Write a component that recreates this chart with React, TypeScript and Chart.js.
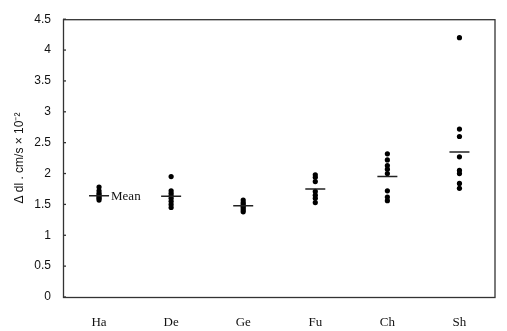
import React, { useEffect, useRef } from "react";
import { Chart, registerables } from "chart.js";

Chart.register(...registerables);

const categories = ["Ha", "De", "Ge", "Fu", "Ch", "Sh"];
const haValues = [1.78, 1.72, 1.68, 1.65, 1.62, 1.6, 1.57];
const deValues = [1.95, 1.72, 1.68, 1.64, 1.6, 1.55, 1.5, 1.45];
const geValues = [1.57, 1.53, 1.5, 1.47, 1.44, 1.41, 1.38];
const fuValues = [1.98, 1.94, 1.87, 1.71, 1.65, 1.6, 1.53];
const chValues = [2.32, 2.22, 2.13, 2.07, 2.0, 1.72, 1.62, 1.56];
const shValues = [4.2, 2.72, 2.6, 2.27, 2.05, 2.0, 1.84, 1.76];
const meanValues = [1.64, 1.63, 1.48, 1.75, 1.95, 2.35];
const yTicks = [0, 0.5, 1, 1.5, 2, 2.5, 3, 3.5, 4, 4.5];
const yTitle = "Δ dl . cm/s × 10⁻²";
const meanLabel = "Mean";

const groups = [haValues, deValues, geValues, fuValues, chValues, shValues];

export default function App() {
  const ref = useRef<HTMLCanvasElement | null>(null);
  useEffect(() => {
    if (!ref.current) return;
    const points: { x: string; y: number }[] = [];
    groups.forEach((vals, i) => vals.forEach((v) => points.push({ x: categories[i], y: v })));
    const means = meanValues.map((v, i) => ({ x: categories[i], y: v }));

    const boxPlugin = {
      id: "boxAndLabel",
      afterDraw(chart: any) {
        const { ctx, chartArea } = chart;
        ctx.save();
        ctx.strokeStyle = "#333";
        ctx.lineWidth = 1.3;
        ctx.strokeRect(chartArea.left + 0.5, chartArea.top + 0.5, chartArea.right - chartArea.left - 1, chartArea.bottom - chartArea.top);
        const ys = chart.scales.y;
        yTicks.forEach((t) => {
          const py = ys.getPixelForValue(t);
          ctx.beginPath();
          ctx.moveTo(chartArea.left, py);
          ctx.lineTo(chartArea.left + 3, py);
          ctx.stroke();
        });
        const xs = chart.scales.x;
        const px = xs.getPixelForValue(0);
        const py = ys.getPixelForValue(meanValues[0]);
        ctx.fillStyle = "#111";
        ctx.font = "13px 'Liberation Serif', serif";
        ctx.textBaseline = "middle";
        ctx.textAlign = "left";
        ctx.fillText(meanLabel, px + 12, py + 1);
        ctx.restore();
      },
    };

    const chart = new Chart(ref.current, {
      type: "scatter",
      data: {
        datasets: [
          {
            data: means,
            pointStyle: "line",
            radius: 10,
            borderColor: "#222",
            borderWidth: 1.5,
            backgroundColor: "#222",
          },
          {
            data: points,
            pointStyle: "circle",
            radius: 2.6,
            borderWidth: 0,
            backgroundColor: "#000",
          },
        ],
      },
      options: {
        animation: false,
        responsive: false,
        layout: { padding: { top: 15, right: 2, left: 0, bottom: 0 } },
        plugins: { legend: { display: false }, tooltip: { enabled: false } },
        scales: {
          x: {
            type: "category",
            labels: categories,
            offset: true,
            grid: { display: false, drawTicks: false },
            border: { display: false },
            ticks: {
              color: "#111",
              padding: 18,
              font: { family: "'Liberation Serif', serif", size: 13 },
            },
            afterFit(scale: any) {
              scale.height = 34;
            },
          },
          y: {
            min: 0,
            max: 4.5,
            grid: { display: false, drawTicks: false },
            border: { display: false },
            afterBuildTicks(scale: any) {
              scale.ticks = yTicks.map((v) => ({ value: v }));
            },
            ticks: {
              color: "#111",
              padding: 12,
              font: { family: "'Liberation Sans', Arial, sans-serif", size: 12 },
              callback: (v: any) => String(v),
            },
            title: {
              display: true,
              text: yTitle,
              color: "#111",
              padding: { top: 12, bottom: 4 },
              font: { family: "'Liberation Sans', Arial, sans-serif", size: 12 },
            },
            afterFit(scale: any) {
              scale.width = 63;
            },
          },
        },
      },
      plugins: [boxPlugin],
    } as any);
    return () => chart.destroy();
  }, []);
  return (
    <div style={{ position: "fixed", left: 0, top: 0, width: 507, height: 331, background: "#fff" }}>
      <canvas ref={ref} width={507} height={331} style={{ width: 507, height: 331 }} />
    </div>
  );
}
